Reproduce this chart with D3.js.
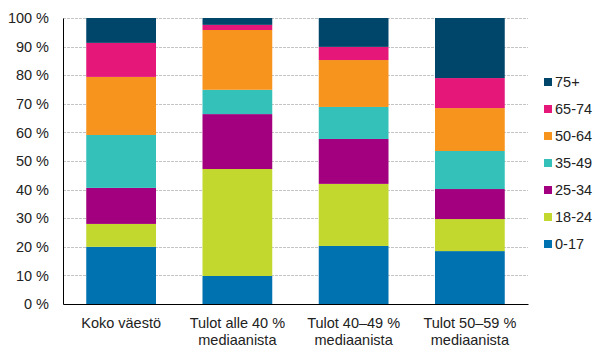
<!DOCTYPE html>
<html>
<head>
<meta charset="utf-8">
<script src="https://cdn.jsdelivr.net/npm/d3@7"></script>
<style>
  body { margin: 0; background: #fff; }
  text { font-family: "Liberation Sans", Arial, sans-serif; fill: #222; }
</style>
</head>
<body>
<div id="app"></div>
<script>
const categories = [
  ['Koko väestö'],
  ['Tulot alle 40 %', 'mediaanista'],
  ['Tulot 40–49 %', 'mediaanista'],
  ['Tulot 50–59 %', 'mediaanista'],
];
const groups = ['0-17', '18-24', '25-34', '35-49', '50-64', '65-74', '75+'];
const colors = ['#0072b0', '#c2d82e', '#a2007e', '#34c1b9', '#f7941e', '#e5187a', '#00466b'];

// share of each age group per bar, %
const v0_17  = [20.0, 9.8, 20.3, 18.5];
const v18_24 = [8.0, 37.4, 21.7, 11.2];
const v25_34 = [12.6, 19.2, 15.7, 10.5];
const v35_49 = [18.5, 8.5, 11.2, 13.3];
const v50_64 = [20.3, 20.9, 16.4, 15.0];
const v65_74 = [11.9, 1.8, 4.6, 10.5];
const v75    = [8.7, 2.4, 10.1, 21.0];

const yTicks = [0, 10, 20, 30, 40, 50, 60, 70, 80, 90, 100];

const series = [v0_17, v18_24, v25_34, v35_49, v50_64, v65_74, v75];
const rows = categories.map((c, i) => {
  const r = { i };
  groups.forEach((g, k) => { r[g] = series[k][i]; });
  return r;
});

const width = 615;
const height = 362;
const margin = { top: 18, right: 87, bottom: 58, left: 63 };
const fontSize = 14.5;

const svg = d3.select('#app').append('svg')
  .attr('width', width)
  .attr('height', height);

const x = d3.scaleBand()
  .domain(d3.range(categories.length))
  .range([margin.left, width - margin.right])
  .paddingInner(0.4)
  .paddingOuter(0.2);

const y = d3.scaleLinear()
  .domain([0, 100])
  .range([height - margin.bottom, margin.top]);

// grid
svg.append('g')
  .selectAll('line')
  .data(yTicks.slice(1))
  .join('line')
  .attr('x1', margin.left)
  .attr('x2', width - margin.right)
  .attr('y1', d => Math.round(y(d)) + 0.5)
  .attr('y2', d => Math.round(y(d)) + 0.5)
  .attr('stroke', '#c4c4c4')
  .attr('stroke-dasharray', '3,1');

const stacked = d3.stack().keys(groups)(rows);

svg.append('g')
  .selectAll('g')
  .data(stacked)
  .join('g')
  .attr('fill', (d, k) => colors[k])
  .selectAll('rect')
  .data(d => d)
  .join('rect')
  .attr('x', d => x(d.data.i))
  .attr('width', x.bandwidth())
  .attr('y', d => y(d[1]))
  .attr('height', d => y(d[0]) - y(d[1]));

// y axis
const yAxis = d3.axisLeft(y).tickValues(yTicks).tickSize(0).tickPadding(14)
  .tickFormat(d => `${d} %`);
svg.append('g')
  .attr('transform', `translate(${margin.left}, 0)`)
  .call(yAxis)
  .call(g => g.select('.domain').attr('stroke', '#000'))
  .call(g => g.selectAll('text').attr('font-size', fontSize).attr('fill', '#222')
    .style('font-family', '"Liberation Sans", Arial, sans-serif'));

// x axis
const xAxis = d3.axisBottom(x).tickSize(0).tickFormat('');
svg.append('g')
  .attr('transform', `translate(0, ${height - margin.bottom})`)
  .call(xAxis)
  .call(g => g.select('.domain').attr('stroke', '#000'));

svg.append('g')
  .selectAll('text')
  .data(categories)
  .join('text')
  .attr('x', (d, i) => x(i) + x.bandwidth() / 2)
  .attr('y', height - margin.bottom + 24)
  .attr('text-anchor', 'middle')
  .attr('font-size', fontSize)
  .selectAll('tspan')
  .data(d => d)
  .join('tspan')
  .attr('x', function () { return d3.select(this.parentNode).attr('x'); })
  .attr('dy', (d, j) => j === 0 ? 0 : 17)
  .text(d => d);

// legend, top item is 75+
const legend = svg.append('g')
  .attr('transform', 'translate(544, 82)');
const items = legend.selectAll('g')
  .data(groups.slice().reverse())
  .join('g')
  .attr('transform', (d, i) => `translate(0, ${i * 27})`);
items.append('rect')
  .attr('x', 0)
  .attr('y', -4)
  .attr('width', 8)
  .attr('height', 8)
  .attr('fill', d => colors[groups.indexOf(d)]);
items.append('text')
  .attr('x', 11)
  .attr('y', 0)
  .attr('dy', '0.35em')
  .attr('font-size', fontSize)
  .text(d => d);
</script>
</body>
</html>
